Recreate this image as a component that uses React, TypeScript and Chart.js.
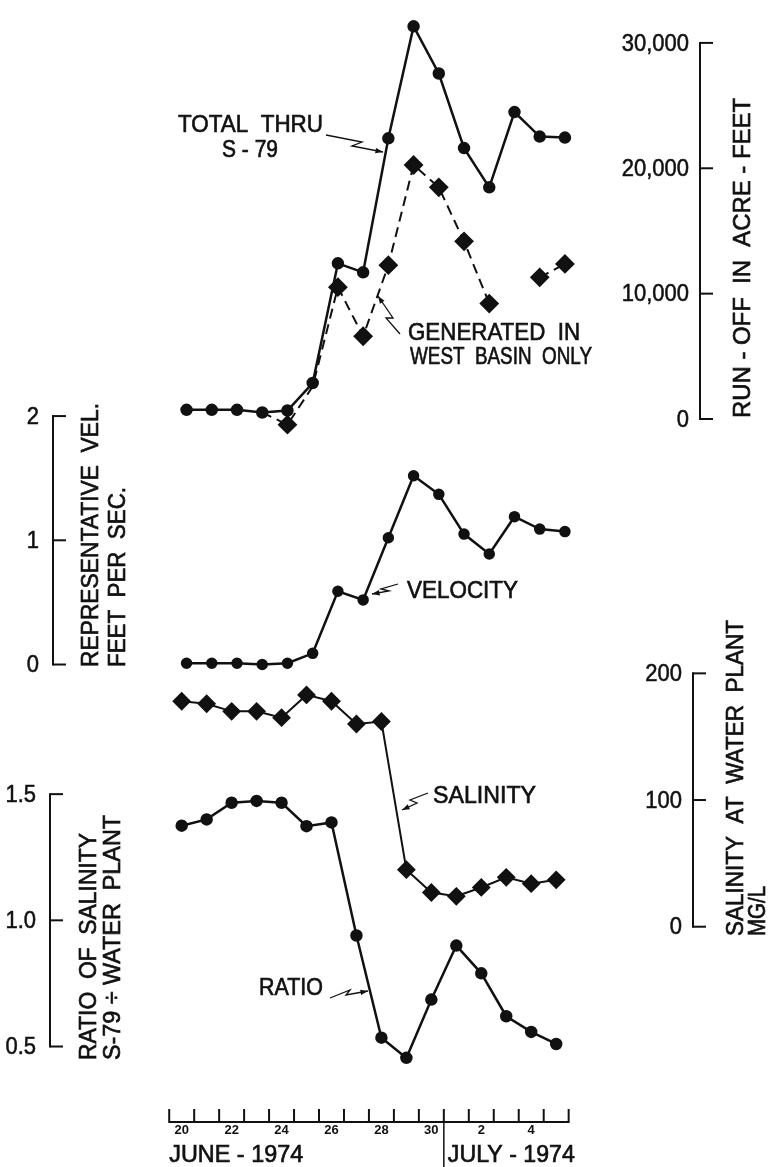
import React, { useEffect, useRef } from 'react';
import { Chart, registerables } from 'chart.js';

Chart.register(...registerables);

// ---------- DATA ----------
// Days: June 20 .. June 30 (20..30), July 1 .. July 5 (31..35)
const days = [20, 21, 22, 23, 24, 25, 26, 27, 28, 29, 30, 31, 32, 33, 34, 35];
const totalThruS79 = [730, 730, 730, 520, 680, 2870, 12420, 11700, 22390, 31320, 27560, 21610, 18480, 24480, 22530, 22450];
const westBasinOnly = [null, null, null, 520, -450, 2600, 10520, 6600, 12270, 20260, 18480, 14170, 9210, null, 11300, 12370];
const velocity = [0.01, 0.01, 0.01, 0.0, 0.01, 0.09, 0.59, 0.52, 1.02, 1.52, 1.37, 1.05, 0.89, 1.19, 1.09, 1.07];
const salinity = [178, 176, 170, 170, 165, 183, 178, 160, 162, 45, 27, 24, 31, 39, 34, 37];
const ratio = [1.375, 1.4, 1.466, 1.473, 1.466, 1.373, 1.388, 0.94, 0.535, 0.455, 0.686, 0.9, 0.79, 0.62, 0.558, 0.51];

const runoffTicks = [0, 10000, 20000, 30000];
const velocityTicks = [0, 1, 2];
const salinityTicks = [0, 100, 200];
const ratioTicks = [0.5, 1.0, 1.5];
const dateTickDays = [20, 22, 24, 26, 28, 30, 32, 34];
const dateTickLabels = ['20', '22', '24', '26', '28', '30', '2', '4'];
const monthLabels = ['JUNE - 1974', 'JULY - 1974'];

// ---------- LAYOUT ----------
const W = 769;
const H = 1167;
const FONT = '"Liberation Sans", Arial, Helvetica, sans-serif';

function hRange(v0: number, p0: number, v1: number, p1: number) {
  const ppu = (p1 - p0) / (v1 - v0);
  return { min: v0 - p0 / ppu, max: v0 + (W - p0) / ppu };
}
function vRange(v0: number, p0: number, v1: number, p1: number) {
  const ppu = (p0 - p1) / (v1 - v0);
  return { min: v0 - (H - p0) / ppu, max: v0 + p0 / ppu };
}

const AXES = [
  { id: 'yRun', ticks: runoffTicks, fmt: (v: number) => v.toLocaleString('en-US'), x: 700, labelRight: 689,
    titles: [{ text: 'RUN - OFF  IN  ACRE - FEET', x: 743, bottom: 418, len: 320 }] },
  { id: 'yVel', ticks: velocityTicks, fmt: (v: number) => String(v), x: 53, labelRight: 39,
    titles: [{ text: 'REPRESENTATIVE  VEL.', x: 91, bottom: 667, len: 264 }, { text: 'FEET  PER  SEC.', x: 118, bottom: 667, len: 180 }] },
  { id: 'ySal', ticks: salinityTicks, fmt: (v: number) => String(v), x: 693, labelRight: 682,
    titles: [{ text: 'SALINITY  AT  WATER  PLANT', x: 736, bottom: 936, len: 316 }, { text: 'MG/L', x: 758, bottom: 936, len: 50 }] },
  { id: 'yRat', ticks: ratioTicks, fmt: (v: number) => v.toFixed(1), x: 50, labelRight: 36,
    titles: [{ text: 'RATIO  OF  SALINITY', x: 89, bottom: 1060, len: 227 }, { text: 'S-79 ÷ WATER  PLANT', x: 113, bottom: 1060, len: 245 }] },
];

const NOTES = [
  { text: 'TOTAL  THRU', x: 178, y: 132, len: 145 },
  { text: 'S - 79', x: 222, y: 157, len: 56 },
  { text: 'GENERATED  IN', x: 408, y: 340, len: 172 },
  { text: 'WEST  BASIN  ONLY', x: 410, y: 364, len: 182 },
  { text: 'VELOCITY', x: 407, y: 598, len: 111 },
  { text: 'SALINITY', x: 433, y: 803, len: 103 },
  { text: 'RATIO', x: 259, y: 995, len: 64 },
];

const ARROWS: number[][][] = [
  [[326, 135], [362, 142], [352, 146], [383, 152]],
  [[400, 334], [386, 318], [393, 318], [378, 296]],
  [[398, 584], [381, 589], [389, 591], [372, 594]],
  [[428, 793], [410, 800], [417, 803], [402, 810]],
  [[330, 998], [350, 990], [346, 995], [368, 991]],
];

function fitText(ctx: CanvasRenderingContext2D, s: string, x: number, y: number, len: number, rotate: boolean, baseline: CanvasTextBaseline) {
  ctx.save();
  ctx.font = `22px ${FONT}`;
  ctx.textAlign = 'left';
  ctx.textBaseline = baseline;
  ctx.translate(x, y);
  if (rotate) ctx.rotate(-Math.PI / 2);
  const w = ctx.measureText(s).width;
  ctx.scale(len / w, 1.12);
  ctx.fillText(s, 0, 0);
  ctx.lineWidth = 0.6;
  ctx.strokeText(s, 0, 0);
  ctx.restore();
}

function drawArrow(ctx: CanvasRenderingContext2D, pts: number[][]) {
  ctx.lineWidth = 1.3;
  ctx.beginPath();
  ctx.moveTo(pts[0][0], pts[0][1]);
  for (let i = 1; i < pts.length; i++) ctx.lineTo(pts[i][0], pts[i][1]);
  ctx.stroke();
  const [x1, y1] = pts[pts.length - 2];
  const [x2, y2] = pts[pts.length - 1];
  const a = Math.atan2(y2 - y1, x2 - x1);
  const L = 8;
  ctx.beginPath();
  ctx.moveTo(x2, y2);
  ctx.lineTo(x2 - L * Math.cos(a - 0.35), y2 - L * Math.sin(a - 0.35));
  ctx.lineTo(x2 - L * Math.cos(a + 0.35), y2 - L * Math.sin(a + 0.35));
  ctx.closePath();
  ctx.fill();
}

const overlayPlugin = {
  id: 'overlay',
  afterDraw(chart: any) {
    const ctx: CanvasRenderingContext2D = chart.ctx;
    const s = chart.scales;
    ctx.save();
    ctx.strokeStyle = '#111';
    ctx.fillStyle = '#111';
    ctx.lineCap = 'butt';

    // vertical axes
    AXES.forEach((ax) => {
      const sc = s[ax.id];
      const yTop = sc.getPixelForValue(ax.ticks[ax.ticks.length - 1]);
      const yBot = sc.getPixelForValue(ax.ticks[0]);
      ctx.lineWidth = 2;
      ctx.beginPath();
      ctx.moveTo(ax.x, yTop - 1);
      ctx.lineTo(ax.x, yBot + 1);
      ctx.stroke();
      ax.ticks.forEach((t) => {
        const y = sc.getPixelForValue(t);
        ctx.lineWidth = 2;
        ctx.beginPath();
        ctx.moveTo(ax.x, y);
        ctx.lineTo(ax.x + 13, y);
        ctx.stroke();
        ctx.save();
        ctx.font = `22px ${FONT}`;
        ctx.textAlign = 'right';
        ctx.textBaseline = 'middle';
        ctx.translate(ax.labelRight, y + 1);
        ctx.scale(1, 1.1);
        ctx.fillText(ax.fmt(t), 0, 0);
        ctx.lineWidth = 0.5;
        ctx.strokeText(ax.fmt(t), 0, 0);
        ctx.restore();
      });
      ax.titles.forEach((t) => fitText(ctx, t.text, t.x, t.bottom, t.len, true, 'middle'));
    });

    // date axis
    const xs = s.x;
    const yAxis = 1122;
    const first = days[0] - 0.5;
    const last = days[days.length - 1] + 0.5;
    ctx.lineWidth = 2;
    ctx.beginPath();
    ctx.moveTo(xs.getPixelForValue(first), yAxis);
    ctx.lineTo(xs.getPixelForValue(last), yAxis);
    ctx.stroke();
    for (let d = first; d <= last + 0.001; d += 1) {
      const px = xs.getPixelForValue(d);
      ctx.beginPath();
      ctx.moveTo(px, yAxis + 1);
      ctx.lineTo(px, yAxis - 13);
      ctx.stroke();
    }
    const sep = xs.getPixelForValue(30.5);
    ctx.lineWidth = 1.5;
    ctx.beginPath();
    ctx.moveTo(sep, yAxis);
    ctx.lineTo(sep, H);
    ctx.stroke();

    ctx.font = `bold 13px ${FONT}`;
    ctx.textAlign = 'center';
    ctx.textBaseline = 'middle';
    dateTickDays.forEach((d, i) => {
      ctx.fillText(dateTickLabels[i], xs.getPixelForValue(d), yAxis + 8);
    });
    fitText(ctx, monthLabels[0], xs.getPixelForValue(first), 1162, 134, false, 'alphabetic');
    fitText(ctx, monthLabels[1], sep + 4, 1162, 127, false, 'alphabetic');

    // annotations
    NOTES.forEach((n) => fitText(ctx, n.text, n.x, n.y, n.len, false, 'alphabetic'));
    ARROWS.forEach((a) => drawArrow(ctx, a));
    ctx.restore();
  },
};

const toPts = (vals: (number | null)[]) => days.map((d, i) => ({ x: d, y: vals[i] }));

export default function App() {
  const ref = useRef<HTMLCanvasElement | null>(null);
  useEffect(() => {
    if (!ref.current) return;
    const black = '#111';
    const chart = new Chart(ref.current, {
      type: 'line',
      data: {
        datasets: [
          {
            label: 'Total thru S-79',
            data: toPts(totalThruS79) as any,
            xAxisID: 'xTop',
            yAxisID: 'yRun',
            borderColor: black,
            backgroundColor: black,
            borderWidth: 2.5,
            pointStyle: 'circle',
            pointRadius: 5,
            pointBackgroundColor: black,
            pointBorderColor: black,
            tension: 0,
          },
          {
            label: 'Generated in West Basin only',
            data: toPts(westBasinOnly) as any,
            xAxisID: 'xTop',
            yAxisID: 'yRun',
            borderColor: black,
            backgroundColor: black,
            borderWidth: 2,
            borderDash: [10, 6],
            pointStyle: 'rectRot',
            pointRadius: westBasinOnly.map((v, i) => (i === 3 || i === 5 ? 0 : 8.5)),
            pointBackgroundColor: black,
            pointBorderColor: black,
            spanGaps: false,
            tension: 0,
          },
          {
            label: 'Velocity',
            data: toPts(velocity) as any,
            xAxisID: 'xTop',
            yAxisID: 'yVel',
            borderColor: black,
            backgroundColor: black,
            borderWidth: 2.5,
            pointStyle: 'circle',
            pointRadius: 4.5,
            pointBackgroundColor: black,
            pointBorderColor: black,
            tension: 0,
          },
          {
            label: 'Salinity',
            data: toPts(salinity) as any,
            xAxisID: 'x',
            yAxisID: 'ySal',
            borderColor: black,
            backgroundColor: black,
            borderWidth: 2,
            pointStyle: 'rectRot',
            pointRadius: 8,
            pointBackgroundColor: black,
            pointBorderColor: black,
            tension: 0,
          },
          {
            label: 'Ratio',
            data: toPts(ratio) as any,
            xAxisID: 'x',
            yAxisID: 'yRat',
            borderColor: black,
            backgroundColor: black,
            borderWidth: 2.5,
            pointStyle: 'circle',
            pointRadius: 5,
            pointBackgroundColor: black,
            pointBorderColor: black,
            tension: 0,
          },
        ],
      },
      options: {
        animation: false,
        responsive: true,
        maintainAspectRatio: false,
        devicePixelRatio: 1,
        events: [],
        layout: { padding: 0 },
        plugins: { legend: { display: false }, tooltip: { enabled: false } },
        scales: {
          x: { type: 'linear', display: false, bounds: 'data', ...hRange(20, 176, 35, 561) },
          xTop: { type: 'linear', display: false, bounds: 'data', ...hRange(20, 181, 35, 570) },
          yRun: { type: 'linear', display: false, bounds: 'data', ...vRange(0, 416, 30000, 33) },
          yVel: { type: 'linear', display: false, bounds: 'data', ...vRange(0, 666, 2, 413) },
          ySal: { type: 'linear', display: false, bounds: 'data', ...vRange(0, 933, 200, 675) },
          yRat: { type: 'linear', display: false, bounds: 'data', ...vRange(0.5, 1055, 1.5, 798) },
        } as any,
      },
      plugins: [overlayPlugin],
    });
    return () => chart.destroy();
  }, []);

  return (
    <div style={{ position: 'absolute', left: 0, top: 0, width: W, height: H, background: '#fff' }}>
      <canvas ref={ref} />
    </div>
  );
}
